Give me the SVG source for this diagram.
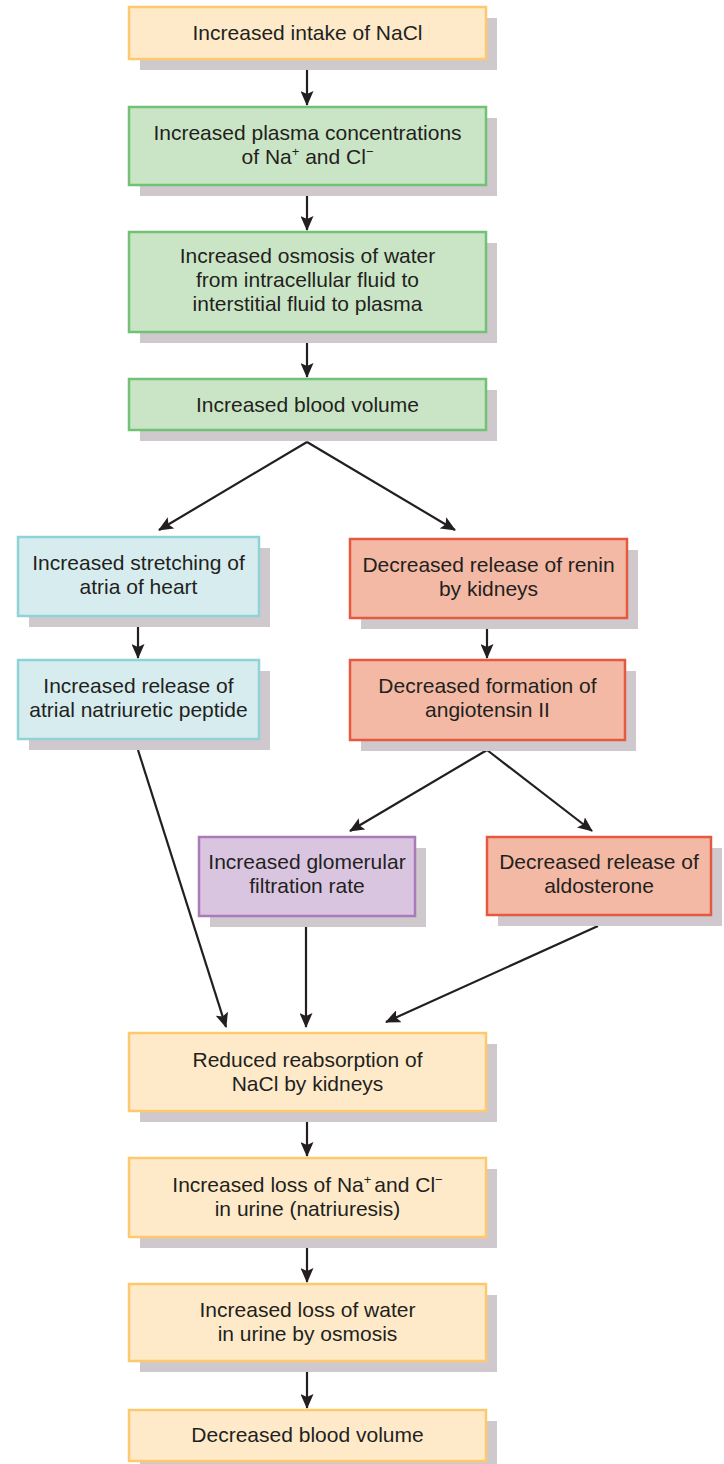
<svg xmlns="http://www.w3.org/2000/svg" width="724" height="1464" viewBox="0 0 724 1464">
<style>
.sh{fill:#CFC9CD}
.y{fill:#FEEAC9;stroke:#FDC96F;stroke-width:2.5}
.g{fill:#CAE5C6;stroke:#72C276;stroke-width:2.5}
.c{fill:#D6ECEE;stroke:#90D3D6;stroke-width:2.5}
.r{fill:#F3B9A4;stroke:#E4593F;stroke-width:2.5}
.p{fill:#DAC5E1;stroke:#A97BB9;stroke-width:2.5}
text{font-family:"Liberation Sans",Arial,Helvetica,sans-serif;font-size:21px;fill:#231F20;text-anchor:middle}
.sup{font-size:13px}
.ln{stroke:#231F20;stroke-width:2.2;fill:none;marker-end:url(#ah)}
</style>
<defs>
<marker id="ah" markerUnits="userSpaceOnUse" markerWidth="15" markerHeight="13" refX="14" refY="6.5" orient="auto">
<path d="M0,0 L15,6.5 L0,13 L3,6.5 z" fill="#231F20"/>
</marker>
</defs>
<rect width="724" height="1464" fill="#fff"/>
<g id="connectors">
<path class="ln" d="M307,69 L307,105"/>
<path class="ln" d="M307,196 L307,230"/>
<path class="ln" d="M307,343 L307,377"/>
<path class="ln" d="M307,442 L159,530"/>
<path class="ln" d="M307,442 L455,530"/>
<path class="ln" d="M138,626 L138,658"/>
<path class="ln" d="M487,629 L487,658"/>
<path class="ln" d="M487,750 L350,831"/>
<path class="ln" d="M487,750 L592,831"/>
<path class="ln" d="M138,750 L226,1027"/>
<path class="ln" d="M306,927 L306,1027"/>
<path class="ln" d="M598,926 L386,1022"/>
<path class="ln" d="M307,1122 L307,1156"/>
<path class="ln" d="M307,1248 L307,1282"/>
<path class="ln" d="M307,1372 L307,1408"/>
</g>
<g id="n1"><rect class="sh" x="140" y="18" width="357" height="52"/><rect class="y" x="129" y="7" width="357" height="52"/><text x="307.5" y="40">Increased intake of NaCl</text></g>
<g id="n2"><rect class="sh" x="140" y="118" width="357" height="78"/><rect class="g" x="129" y="107" width="357" height="78"/><text x="307.5" y="140">Increased plasma concentrations</text><text x="307.5" y="164">of Na<tspan class="sup" dy="-8">+</tspan><tspan dy="8"> and Cl</tspan><tspan class="sup" dy="-8">−</tspan></text></g>
<g id="n3"><rect class="sh" x="140" y="243" width="357" height="100"/><rect class="g" x="129" y="232" width="357" height="100"/><text x="307.5" y="263">Increased osmosis of water</text><text x="307.5" y="287">from intracellular fluid to</text><text x="307.5" y="311">interstitial fluid to plasma</text></g>
<g id="n4"><rect class="sh" x="140" y="390" width="357" height="51"/><rect class="g" x="129" y="379" width="357" height="51"/><text x="307.5" y="412">Increased blood volume</text></g>
<g id="n5"><rect class="sh" x="29" y="548" width="241" height="79"/><rect class="c" x="18" y="537" width="241" height="79"/><text x="138.5" y="570">Increased stretching of</text><text x="138.5" y="594">atria of heart</text></g>
<g id="n6"><rect class="sh" x="29" y="671" width="241" height="79"/><rect class="c" x="18" y="660" width="241" height="79"/><text x="138.5" y="693">Increased release of</text><text x="138.5" y="717">atrial natriuretic peptide</text></g>
<g id="n7"><rect class="sh" x="361" y="550" width="277" height="79"/><rect class="r" x="350" y="539" width="277" height="79"/><text x="488.5" y="572">Decreased release of renin</text><text x="488.5" y="596">by kidneys</text></g>
<g id="n8"><rect class="sh" x="361" y="671" width="275" height="80"/><rect class="r" x="350" y="660" width="275" height="80"/><text x="487.5" y="693">Decreased formation of</text><text x="487.5" y="717">angiotensin II</text></g>
<g id="n9"><rect class="sh" x="210" y="848" width="216" height="79"/><rect class="p" x="199" y="837" width="216" height="79"/><text x="307" y="869">Increased glomerular</text><text x="307" y="893">filtration rate</text></g>
<g id="n10"><rect class="sh" x="498" y="848" width="224" height="78"/><rect class="r" x="487" y="837" width="224" height="78"/><text x="599" y="869">Decreased release of</text><text x="599" y="893">aldosterone</text></g>
<g id="n11"><rect class="sh" x="140" y="1044" width="357" height="78"/><rect class="y" x="129" y="1033" width="357" height="78"/><text x="307.5" y="1067">Reduced reabsorption of</text><text x="307.5" y="1091">NaCl by kidneys</text></g>
<g id="n12"><rect class="sh" x="140" y="1169" width="357" height="79"/><rect class="y" x="129" y="1158" width="357" height="79"/><text x="307.5" y="1192">Increased loss of Na<tspan class="sup" dy="-8">+</tspan><tspan dx="3" dy="8">and Cl</tspan><tspan class="sup" dy="-8">−</tspan></text><text x="307.5" y="1216">in urine (natriuresis)</text></g>
<g id="n13"><rect class="sh" x="140" y="1295" width="357" height="77"/><rect class="y" x="129" y="1284" width="357" height="77"/><text x="307.5" y="1317">Increased loss of water</text><text x="307.5" y="1341">in urine by osmosis</text></g>
<g id="n14"><rect class="sh" x="140" y="1421" width="357" height="51"/><rect class="y" x="129" y="1410" width="357" height="51"/><text x="307.5" y="1442">Decreased blood volume</text></g>
</svg>
